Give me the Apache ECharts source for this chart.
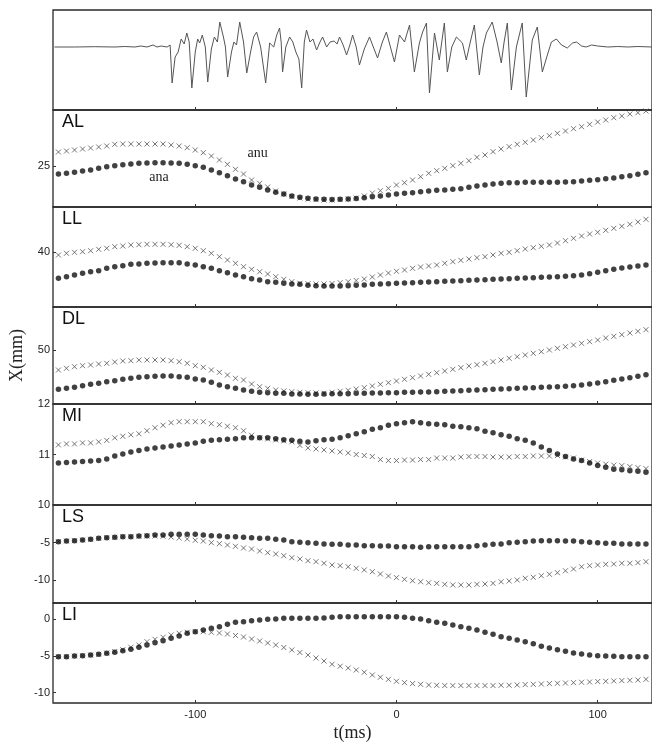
<!DOCTYPE html>
<html><head><meta charset="utf-8">
<script src="https://cdn.jsdelivr.net/npm/echarts@6/dist/echarts.min.js"></script>
<style>html,body{margin:0;padding:0;background:#fff}#c{width:652px;height:745px}</style>
</head><body><div id="c"></div>
<script>
// sample times (ms)
const times = [-168,-164,-160,-156,-152,-148,-144,-140,-136,-132,-128,-124,-120,-116,-112,-108,-104,-100,-96,-92,-88,-84,-80,-76,-72,-68,-64,-60,-56,-52,-48,-44,-40,-36,-32,-28,-24,-20,-16,-12,-8,-4,0,4,8,12,16,20,24,28,32,36,40,44,48,52,56,60,64,68,72,76,80,84,88,92,96,100,104,108,112,116,120,124];

// acoustic waveform (arbitrary units)
const waveT = [-170,-160,-150,-140,-135,-130,-127,-124,-121,-119,-117,-114,-112.5,-111.5,-110,-108.5,-107,-105.5,-104.2,-103,-101.7,-100,-98.8,-97.8,-96.5,-95,-93.8,-92,-90.5,-89,-87.8,-86,-85,-83.9,-82,-80.8,-79.5,-77.9,-76,-74.4,-72.5,-71,-69.5,-67.5,-65,-63,-61,-59.5,-58.1,-57.3,-56.6,-55,-53.1,-51.5,-50,-48.5,-47.1,-45.8,-44.7,-43,-41.5,-39.7,-38,-36.7,-34.7,-33,-31,-29.5,-28.3,-26.5,-24.8,-23,-21.8,-20,-18.4,-16,-13.4,-11.5,-9.4,-7,-5,-3,-1,1.5,4,6.5,8.9,11.4,13,14.9,16.4,18.9,21.3,23.8,25.3,27.5,29.8,32.8,34.7,36.7,38.7,41.2,43,44.7,47.6,50,52.1,53.5,55.1,57.1,59.6,62.5,64.5,67.5,70,72.5,75,77,79.5,82,84.9,87.5,89.5,92,94.3,97,100,105,110,115,120,127];
const waveV = [0,0,0.3,0,0.5,0,1,0,2,0,1,0,2,-36,-10,-5,8,3,14,5,-41,-5,8,4,12,0,-35,-2,10,5,25,10,0,-30,-5,5,2,25,5,-26,-5,10,15,0,-36,4,0,12,19,5,-25,0,10,5,-5,-12,-41,5,17,5,8,-3,5,10,0,5,6,3,10,2,-8,3,12,0,-18,-2,10,0,-11,5,15,0,-15,12,5,22,-25,4,15,24,-46,14,-13,24,-25,0,10,4,-13,5,22,-28,0,14,25,5,-16,5,24,-43,0,24,-50,7,20,-25,-8,5,8,2,-1,4,5,1,0,2,1,0,0.5,0,0.5,0];

// AL
const alAnu = [26.4,26.5,26.6,26.7,26.8,26.9,27.0,27.17,27.2,27.2,27.2,27.2,27.2,27.2,27.1,27.0,26.83,26.6,26.33,26.0,25.6,25.17,24.67,24.2,23.6,23.27,22.9,22.5,22.2,21.95,21.8,21.7,21.65,21.6,21.6,21.65,21.7,21.8,22.0,22.3,22.53,22.77,23.1,23.33,23.6,23.93,24.27,24.53,24.77,25.03,25.27,25.53,25.87,26.1,26.43,26.7,26.93,27.17,27.37,27.6,27.83,28.03,28.27,28.5,28.73,28.93,29.17,29.4,29.6,29.83,30.0,30.2,30.33,30.5];
const alAna = [24.2,24.27,24.37,24.5,24.6,24.77,24.93,25.03,25.13,25.2,25.27,25.3,25.33,25.33,25.3,25.27,25.17,25.03,24.87,24.6,24.33,24.03,23.7,23.43,23.1,22.87,22.6,22.37,22.2,22.0,21.87,21.77,21.7,21.67,21.65,21.67,21.7,21.75,21.83,21.93,22.0,22.1,22.2,22.27,22.33,22.43,22.5,22.57,22.6,22.67,22.73,22.87,23.0,23.1,23.2,23.27,23.33,23.33,23.37,23.37,23.37,23.37,23.37,23.4,23.43,23.5,23.57,23.63,23.73,23.8,23.93,24.03,24.17,24.33];
// LL
const llAnu = [39.7,39.87,39.97,40.03,40.13,40.27,40.37,40.53,40.6,40.7,40.73,40.77,40.77,40.77,40.73,40.67,40.53,40.37,40.13,39.87,39.53,39.2,38.87,38.53,38.27,38.03,37.8,37.53,37.27,37.03,36.87,36.83,36.8,36.8,36.85,36.93,37.03,37.15,37.3,37.5,37.7,37.9,38.07,38.2,38.37,38.5,38.6,38.7,38.87,39.03,39.17,39.3,39.43,39.53,39.7,39.87,39.97,40.13,40.3,40.43,40.57,40.7,40.9,41.13,41.37,41.6,41.8,41.97,42.17,42.37,42.57,42.77,43.0,43.27];
const llAna = [37.37,37.53,37.7,37.87,38.03,38.13,38.37,38.53,38.63,38.77,38.8,38.87,38.9,38.93,38.93,38.93,38.8,38.7,38.53,38.37,38.13,37.93,37.7,37.53,37.33,37.2,37.03,36.97,36.87,36.8,36.77,36.67,36.63,36.6,36.6,36.6,36.63,36.67,36.7,36.77,36.8,36.83,36.87,36.9,36.93,36.97,37.0,37.03,37.07,37.1,37.13,37.17,37.2,37.23,37.27,37.3,37.33,37.37,37.4,37.43,37.47,37.5,37.53,37.57,37.63,37.7,37.83,37.97,38.13,38.27,38.4,38.5,38.6,38.7];
// DL
const dlAnu = [48.0,48.17,48.33,48.43,48.5,48.6,48.67,48.8,48.9,48.93,49.0,49.0,49.0,49.0,48.93,48.83,48.67,48.43,48.27,48.0,47.77,47.5,47.17,47.0,46.6,46.33,46.17,46.0,45.9,45.83,45.77,45.73,45.7,45.67,45.77,45.87,45.97,46.1,46.23,46.4,46.57,46.73,46.9,47.07,47.23,47.4,47.57,47.73,47.9,48.07,48.23,48.4,48.53,48.67,48.83,49.0,49.17,49.33,49.5,49.67,49.83,50.0,50.17,50.33,50.5,50.67,50.83,51.0,51.2,51.37,51.53,51.7,51.87,52.03];
const dlAna = [46.07,46.17,46.27,46.43,46.57,46.67,46.83,46.93,47.07,47.17,47.27,47.33,47.37,47.4,47.4,47.33,47.27,47.1,47.0,46.77,46.5,46.33,46.17,46.0,45.87,45.77,45.73,45.67,45.67,45.6,45.6,45.57,45.57,45.6,45.63,45.63,45.63,45.67,45.67,45.7,45.7,45.73,45.73,45.77,45.77,45.8,45.8,45.83,45.87,45.9,45.93,45.97,46.0,46.03,46.07,46.1,46.13,46.17,46.2,46.23,46.27,46.3,46.33,46.37,46.43,46.5,46.6,46.7,46.83,46.97,47.1,47.23,47.37,47.53];
// MI
const miAnu = [11.19,11.21,11.21,11.23,11.23,11.25,11.28,11.33,11.36,11.39,11.41,11.47,11.53,11.58,11.63,11.65,11.65,11.65,11.65,11.61,11.59,11.56,11.53,11.47,11.38,11.33,11.31,11.29,11.27,11.25,11.18,11.13,11.11,11.09,11.07,11.05,11.03,11.0,10.98,10.96,10.9,10.88,10.88,10.89,10.89,10.9,10.9,10.93,10.93,10.93,10.95,10.96,10.96,10.96,10.95,10.95,10.95,10.96,10.96,10.97,10.97,10.97,10.98,10.95,10.93,10.89,10.86,10.83,10.81,10.79,10.78,10.76,10.74,10.72];
const miAna = [10.83,10.84,10.85,10.86,10.87,10.88,10.91,10.97,11.01,11.05,11.08,11.11,11.13,11.15,11.17,11.19,11.21,11.23,11.26,11.28,11.29,11.3,11.31,11.33,11.33,11.33,11.33,11.31,11.29,11.28,11.26,11.25,11.27,11.29,11.3,11.33,11.37,11.41,11.45,11.5,11.53,11.58,11.61,11.63,11.65,11.63,11.61,11.6,11.59,11.56,11.55,11.53,11.51,11.46,11.43,11.39,11.36,11.31,11.28,11.23,11.15,11.08,11.01,10.96,10.91,10.88,10.83,10.78,10.75,10.71,10.7,10.68,10.67,10.65];
// LS
const lsAnu = [-4.87,-4.78,-4.74,-4.64,-4.55,-4.42,-4.34,-4.29,-4.21,-4.21,-4.15,-4.11,-4.11,-4.15,-4.25,-4.38,-4.51,-4.68,-4.78,-5.0,-5.13,-5.31,-5.48,-5.7,-5.84,-6.1,-6.33,-6.5,-6.73,-6.99,-7.16,-7.39,-7.52,-7.73,-7.96,-8.05,-8.19,-8.4,-8.62,-8.85,-9.15,-9.42,-9.64,-9.86,-10.04,-10.18,-10.31,-10.39,-10.52,-10.61,-10.61,-10.61,-10.52,-10.48,-10.39,-10.18,-10.08,-9.95,-9.72,-9.59,-9.38,-9.19,-8.98,-8.72,-8.49,-8.19,-8.05,-7.96,-7.87,-7.83,-7.73,-7.73,-7.65,-7.52];
const lsAna = [-4.87,-4.78,-4.74,-4.64,-4.55,-4.42,-4.34,-4.29,-4.21,-4.21,-4.11,-4.07,-3.98,-3.98,-3.89,-3.89,-3.89,-3.89,-3.98,-4.07,-4.11,-4.21,-4.21,-4.29,-4.34,-4.42,-4.42,-4.55,-4.64,-4.87,-4.95,-5.0,-5.08,-5.17,-5.21,-5.21,-5.31,-5.31,-5.4,-5.4,-5.44,-5.44,-5.53,-5.53,-5.53,-5.61,-5.53,-5.53,-5.53,-5.53,-5.53,-5.53,-5.4,-5.31,-5.21,-5.17,-5.0,-4.95,-4.87,-4.78,-4.74,-4.74,-4.74,-4.78,-4.78,-4.87,-4.95,-5.0,-5.08,-5.08,-5.17,-5.17,-5.17,-5.17];
// LI
const liAnu = [-5.1,-5.1,-5.01,-4.97,-4.88,-4.78,-4.6,-4.4,-4.15,-3.82,-3.51,-3.06,-2.74,-2.46,-2.15,-1.92,-1.78,-1.7,-1.7,-1.78,-1.88,-2.02,-2.22,-2.42,-2.7,-2.97,-3.24,-3.51,-3.85,-4.19,-4.53,-4.87,-5.28,-5.69,-6.13,-6.4,-6.64,-6.91,-7.22,-7.59,-7.9,-8.18,-8.45,-8.63,-8.76,-8.86,-8.95,-8.99,-9.03,-9.03,-9.03,-9.03,-9.03,-9.03,-9.03,-8.99,-8.99,-8.95,-8.9,-8.86,-8.82,-8.76,-8.72,-8.68,-8.63,-8.58,-8.54,-8.48,-8.45,-8.4,-8.35,-8.31,-8.27,-8.18];
const liAna = [-5.1,-5.1,-5.01,-4.97,-4.88,-4.78,-4.65,-4.51,-4.29,-4.1,-3.82,-3.51,-3.2,-2.93,-2.6,-2.29,-1.92,-1.71,-1.47,-1.24,-1.02,-0.69,-0.42,-0.34,-0.2,-0.11,-0.02,0.03,0.12,0.12,0.12,0.12,0.12,0.16,0.26,0.34,0.34,0.34,0.34,0.34,0.34,0.34,0.34,0.26,0.12,0.03,-0.2,-0.42,-0.56,-0.79,-1.02,-1.24,-1.47,-1.78,-2.06,-2.38,-2.6,-2.83,-3.06,-3.34,-3.69,-3.92,-4.15,-4.37,-4.6,-4.74,-4.88,-4.97,-5.01,-5.05,-5.1,-5.1,-5.1,-5.1];

const panelNames = ['AL','LL','DL','MI','LS','LI'];
const panelAnu = [alAnu, llAnu, dlAnu, miAnu, lsAnu, liAnu];
const panelAna = [alAna, llAna, dlAna, miAna, lsAna, liAna];
const yTickValues = [[25],[40],[50],[10,11,12],[-5,-10],[0,-5,-10]];
const xTickValues = [-100, 0, 100];
const anuLabel = {text:'anu', t:-69, v:26.3};
const anaLabel = {text:'ana', t:-118, v:23.9};

// layout (pixels) and axis extents
const layout = [
  {top:10,  h:100, min:-63,  max:37},
  {top:110, h:97,  min:20.9, max:30.6},
  {top:207, h:100, min:34.5, max:44.5},
  {top:307, h:97,  min:44.6, max:54.3},
  {top:404, h:101, min:10,   max:12},
  {top:505, h:98,  min:-13,  max:0},
  {top:603, h:100, min:-11.4,max:2.2}
];
const XMIN = -170.7, XMAX = 127.0;

const sans = '"Liberation Sans", Arial, sans-serif';
const serif = '"Liberation Serif", "Times New Roman", serif';

const grid = [], xAxis = [], yAxis = [], series = [], graphic = [];
layout.forEach((L, i) => {
  grid.push({left:53, right:-1, top:L.top, height:L.h, show:true, borderColor:'#2a2a2a', borderWidth:1.3, backgroundColor:'transparent'});
  const last = i === layout.length - 1;
  xAxis.push({
    gridIndex:i, type:'value', min:XMIN, max:XMAX, position:'bottom',
    axisLine:{show:false, onZero:false},
    axisTick:{show:true, inside:true, length:3, customValues:xTickValues, lineStyle:{color:'#333'}},
    axisLabel:{show:last, customValues:xTickValues, fontFamily:sans, fontSize:11, color:'#222', margin:6},
    splitLine:{show:false},
    name: last ? 't(ms)' : '', nameLocation:'middle', nameGap:21,
    nameTextStyle:{fontFamily:serif, fontSize:18, color:'#222'}
  });
  const ticks = i === 0 ? [] : yTickValues[i-1];
  yAxis.push({
    gridIndex:i, type:'value', min:L.min, max:L.max, position:'left',
    axisLine:{show:false, onZero:false},
    axisTick:{show:i>0, inside:true, length:3, customValues:ticks, lineStyle:{color:'#333'}},
    axisLabel:{show:i>0, customValues:ticks, fontFamily:sans, fontSize:11, color:'#222', margin:3},
    splitLine:{show:false},
    name: i === 3 ? 'X(mm)' : '', nameLocation:'middle', nameGap:27,
    nameTextStyle:{fontFamily:serif, fontSize:18, color:'#222'}
  });
});

series.push({
  type:'line', xAxisIndex:0, yAxisIndex:0, symbol:'none',
  data: waveT.map((t, j) => [t, waveV[j]]),
  lineStyle:{color:'#555', width:1}
});

panelNames.forEach((nm, p) => {
  const gi = p + 1;
  const anuSeries = {
    type:'scatter', name:'anu', xAxisIndex:gi, yAxisIndex:gi,
    symbol:'path://M0,0L10,10M10,0L0,10', symbolSize:5,
    itemStyle:{color:'transparent', borderColor:'#555', borderWidth:1},
    data: times.map((t, j) => [t, panelAnu[p][j]]), z:2
  };
  const anaSeries = {
    type:'scatter', name:'ana', xAxisIndex:gi, yAxisIndex:gi,
    symbol:'circle', symbolSize:5.5,
    itemStyle:{color:'#111'},
    data: times.map((t, j) => [t, panelAna[p][j]]), z:3
  };
  if (p === 0) {
    anuSeries.markPoint = {
      symbol:'rect', symbolSize:1, itemStyle:{color:'transparent'},
      label:{show:true, position:'inside', formatter:'{b}', fontFamily:serif, fontSize:14, color:'#222'},
      data:[{name:anuLabel.text, coord:[anuLabel.t, anuLabel.v]}, {name:anaLabel.text, coord:[anaLabel.t, anaLabel.v]}]
    };
  }
  series.push(anuSeries, anaSeries);
  graphic.push({type:'text', left:62, top:layout[gi].top + 3,
    style:{text:nm, font:'18px ' + sans, fill:'#111'}});
});

const chart = echarts.init(document.getElementById('c'), null, {renderer:'canvas'});
chart.setOption({animation:false, backgroundColor:'#fff', grid, xAxis, yAxis, series, graphic});
</script>
</body></html>
